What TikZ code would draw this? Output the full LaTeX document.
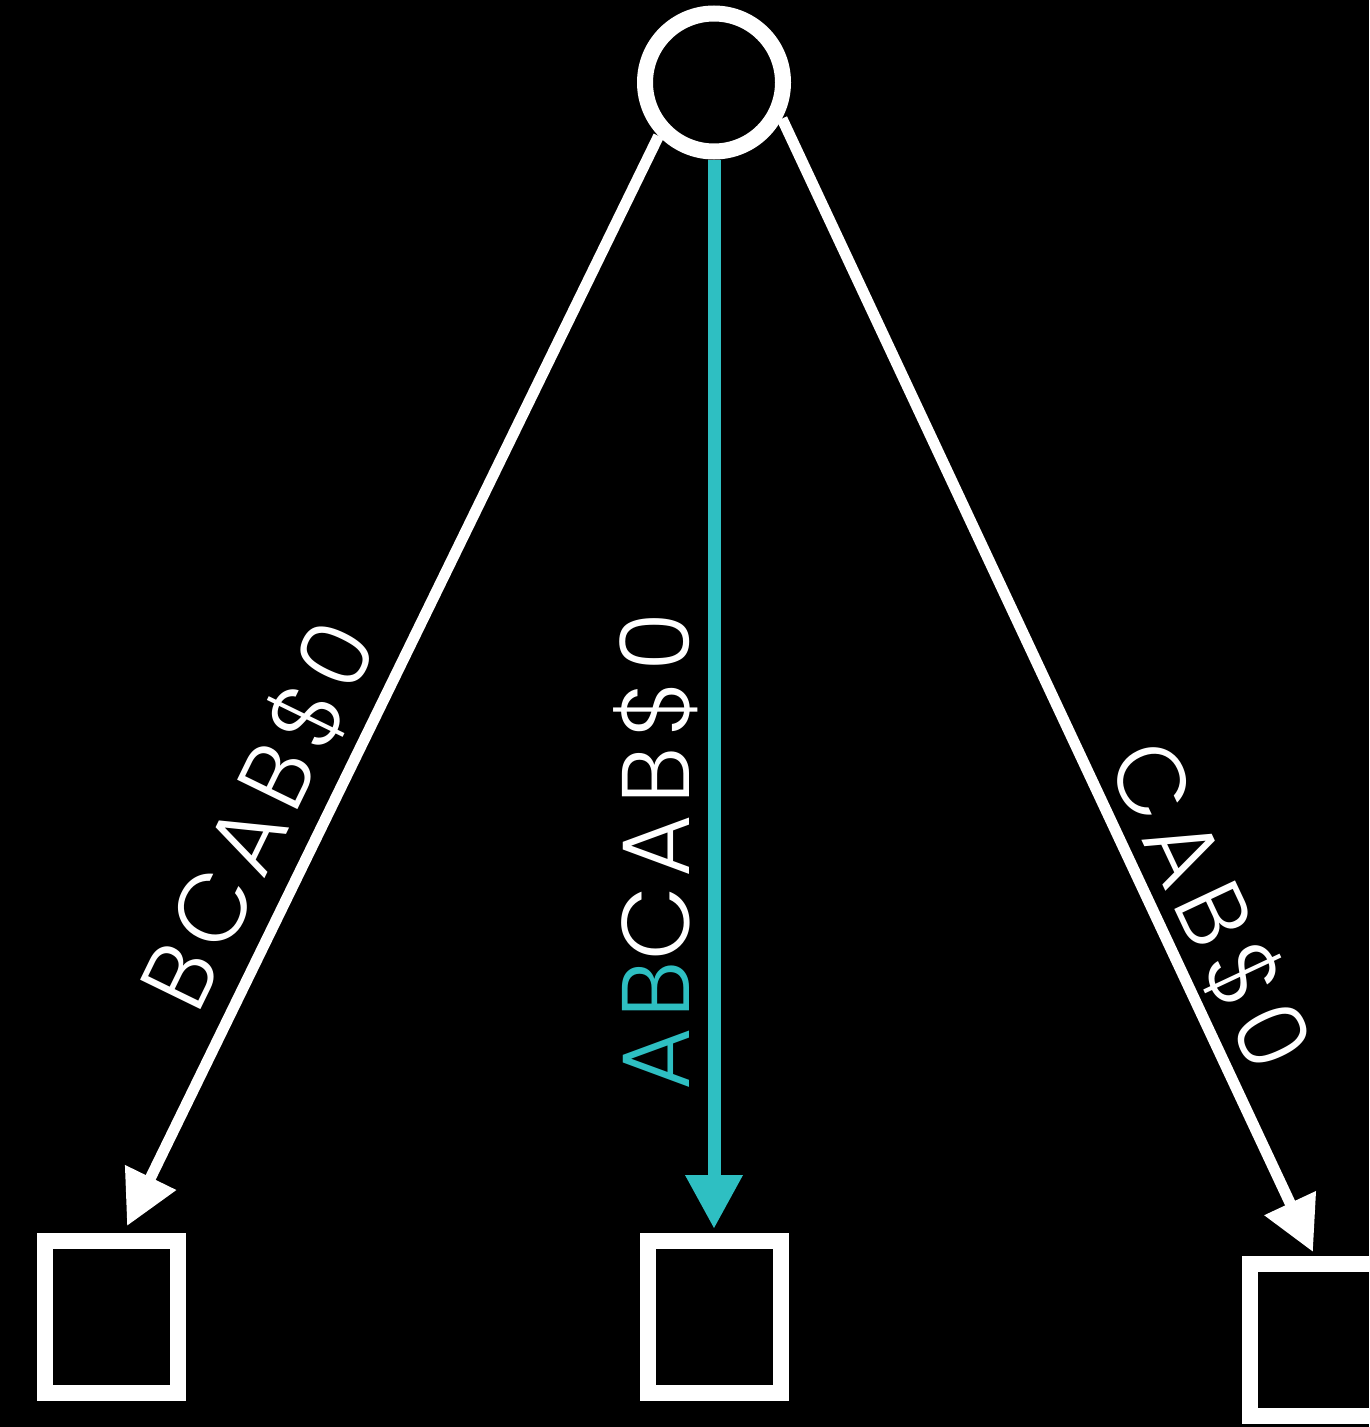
\documentclass[tikz,border=0pt]{standalone}
\usepackage{fontspec}
\newfontfamily\lblfont{Poppins Light}[LetterSpace=10]
\usetikzlibrary{arrows.meta}
\definecolor{tealc}{RGB}{46,191,194}
\tikzset{
  edge/.style={draw=white, line width=11pt, -{Triangle[length=54pt,width=54pt]}},
  tealedge/.style={draw=tealc, line width=13pt, -{Triangle[length=54pt,width=54pt]}},
  leaf/.style={draw=white, line width=16pt, rectangle, minimum width=133pt, minimum height=152pt, inner sep=0pt},
  root/.style={draw=white, line width=16pt, circle, minimum size=138pt, inner sep=0pt},
  lbl/.style={text=white, inner sep=0pt, font=\lblfont\fontsize{96}{110}\selectfont}
}
\begin{document}
\begin{tikzpicture}[x=1pt,y=-1pt]
  \fill[black] (0,0) rectangle (1369,1427);
  \useasboundingbox (0,0) rectangle (1369,1427);
  \node[root] (c) at (714,82.5) {};
  \node[leaf] (sqL) at (111.5,1317) {};
  \node[leaf] (sqM) at (714,1317) {};
  \node[leaf] (sqR) at (1316.5,1340) {};
  \coordinate (tL) at (127,1226);
  \coordinate (tM) at (714,1229);
  \coordinate (tR) at (1313,1252);
  \draw[edge] (c.224) -- (tL);
  \draw[tealedge] (c.south) -- (tM);
  \draw[edge] (c.-28) -- (tR);
  \node[lbl, rotate=64] (lL) at (258,815) {BCAB\$0};
  \node[lbl, rotate=90] (lM) at (656,851) {\textcolor{tealc}{AB}CAB\$0};
  \node[lbl, rotate=-64.8] (lR) at (1210,905) {CAB\$0};
\end{tikzpicture}
\end{document}
